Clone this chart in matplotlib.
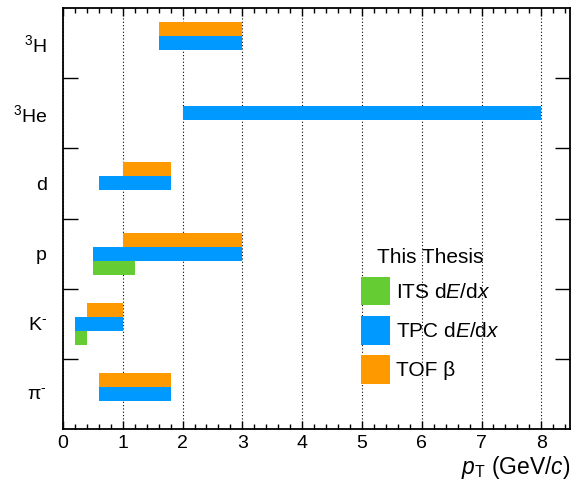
import matplotlib
matplotlib.use('Agg')
import matplotlib.pyplot as plt
import numpy as np
from matplotlib.patches import Patch
from matplotlib.ticker import MultipleLocator

plt.rcParams['font.family'] = ['Liberation Sans', 'DejaVu Sans']
plt.rcParams['mathtext.fontset'] = 'custom'
plt.rcParams['mathtext.rm'] = 'Liberation Sans'
plt.rcParams['mathtext.it'] = 'Liberation Sans:italic'
plt.rcParams['mathtext.bf'] = 'Liberation Sans:bold'

# particle species, bottom to top
species = [r'π$^{\text{-}}$', r'K$^{\text{-}}$', 'p', 'd', r'$^{3}$He', r'$^{3}$H']

# pT ranges (GeV/c) covered by each PID detector, nan = not used
its_lo = [np.nan, 0.2, 0.5, np.nan, np.nan, np.nan]
its_hi = [np.nan, 0.4, 1.2, np.nan, np.nan, np.nan]
tpc_lo = [0.6, 0.2, 0.5, 0.6, 2.0, 1.6]
tpc_hi = [1.8, 1.0, 3.0, 1.8, 8.0, 3.0]
tof_lo = [0.6, 0.4, 1.0, 1.0, np.nan, 1.6]
tof_hi = [1.8, 1.0, 3.0, 1.8, np.nan, 3.0]

c_its = '#66CC33'
c_tpc = '#0099FF'
c_tof = '#FF9900'

fig = plt.figure(figsize=(5.71, 4.88), dpi=100)
ax = fig.add_axes([63/571, 1-429/488, 507/571, 421/488])

ypos = np.arange(len(species))
h = 0.2

def draw(lo, hi, off, col):
    lo = np.array(lo); hi = np.array(hi)
    ok = ~np.isnan(lo)
    ax.barh(ypos[ok] + off, hi[ok] - lo[ok], left=lo[ok], height=h,
            color=col, edgecolor='none')

draw(its_lo, its_hi, -h, c_its)
draw(tpc_lo, tpc_hi, 0.0, c_tpc)
draw(tof_lo, tof_hi, h, c_tof)

ax.set_xlim(0, 8.48)
ax.set_ylim(-0.5, len(species) - 0.5)

ax.xaxis.set_major_locator(MultipleLocator(1))
ax.xaxis.set_minor_locator(MultipleLocator(0.2))
ax.tick_params(axis='x', which='both', direction='in', top=True, bottom=True,
               labelsize=14, pad=4)
ax.tick_params(axis='x', which='major', length=6, width=1)
ax.tick_params(axis='x', which='minor', length=3.5, width=1)

# band separators as major ticks, species names as minor ticks
ax.set_yticks(ypos[:-1] + 0.5)
ax.set_yticklabels([])
ax.set_yticks(ypos, species, minor=True)
ax.tick_params(axis='y', which='major', direction='in', left=True, right=True,
               length=11, width=1)
ax.tick_params(axis='y', which='minor', length=0, pad=11.5, labelsize=14)

for s in ax.spines.values():
    s.set_linewidth(1.3)

ax.grid(axis='x', which='major', color='black', linestyle=(0, (1, 2)), linewidth=0.8)
ax.set_axisbelow(True)

ax.set_xlabel(r'$p_{\mathrm{T}}$ (GeV/$c$)', fontsize=16.5, loc='right', labelpad=2)

handles = [Patch(facecolor=c_its, label=r'ITS d$E$/d$x$'),
           Patch(facecolor=c_tpc, label=r'TPC d$E$/d$x$'),
           Patch(facecolor=c_tof, label='TOF β')]
leg = ax.legend(handles=handles, title='This Thesis', loc='upper left',
                bbox_to_anchor=(0.568, 0.455), frameon=False, fontsize=15,
                title_fontsize=15, handlelength=1.35, handleheight=1.75,
                handletextpad=0.3, labelspacing=0.5, borderpad=0)
leg._legend_box.sep = 7

fig.savefig('out.png', dpi=100)
